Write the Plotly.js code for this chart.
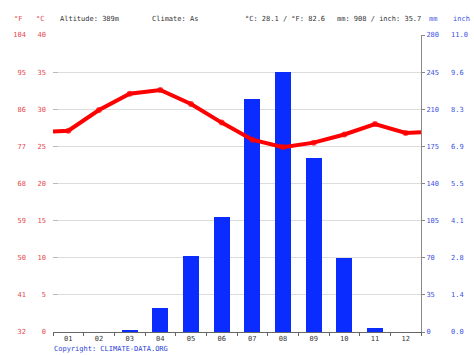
<!DOCTYPE html>
<html><head><meta charset="utf-8">
<script src="https://cdn.plot.ly/plotly-3.0.1.min.js"></script>
<style>html,body{margin:0;padding:0;background:#fff}#c{width:474px;height:355px}</style>
</head><body><div id="c"></div>
<script>
const months = [1,2,3,4,5,6,7,8,9,10,11,12];
const monthLabels = ['01','02','03','04','05','06','07','08','09','10','11','12'];
const precipMm = [0, 0, 2, 23, 72, 108, 220, 245, 164, 70, 4, 0];
const tempC = [27.1, 29.9, 32.1, 32.6, 30.7, 28.2, 25.9, 24.9, 25.5, 26.6, 28.0, 26.8];
const tempEdgeC = [27.0, 26.9]; // line value at left and right plot edges
const cTicks = [0,5,10,15,20,25,30,35,40];
const fTicks = [32,41,50,59,68,77,86,95,104];
const mmTicks = [0,35,70,105,140,175,210,245,280];
const inchTicks = ['0.0','1.4','2.8','4.1','5.5','6.9','8.3','9.6','11.0'];

const W = 474, H = 355, L = 53, R = 421, T = 35, B = 332;
const ph = B - T;
const px = v => v / W;
const py = v => 1 + (T - v) / ph;
const MONO = 'DejaVu Sans Mono';
const RED = '#e5484d', BLUE = '#3d52e3', GREY = '#333';

const lineX = [0.5].concat(months, [12.5]);
const lineY = [tempEdgeC[0]].concat(tempC, [tempEdgeC[1]]);
const msize = lineX.map((_, i) => (i === 0 || i === lineX.length - 1) ? 0 : 6);

const traces = [
  {type:'bar', x: months, y: precipMm, width: 0.53, marker:{color:'#0a2cff', line:{width:0}}, yaxis:'y', xaxis:'x', hoverinfo:'skip'},
  {type:'scatter', mode:'lines+markers', x: lineX, y: lineY, yaxis:'y2', line:{color:'#ff0000', width:4},
   marker:{color:'#ff0000', size: msize, line:{width:0}}, hoverinfo:'skip'},
  {type:'scatter', x:[], y:[], yaxis:'y3', hoverinfo:'skip'},
  {type:'scatter', x:[], y:[], yaxis:'y4', hoverinfo:'skip'}
];

const tf = c => ({family: MONO, size: 7, color: c});
const layout = {
  width: W, height: H, showlegend: false,
  margin: {l:0, r:0, t:T, b:H-B, pad:0},
  paper_bgcolor:'#fff', plot_bgcolor:'#fff',
  bargap: 0,
  xaxis: {domain:[px(L), px(R)], range:[0.5,12.5], tickvals: months, ticktext: monthLabels,
          tickfont: tf(GREY), ticks:'', showgrid:false, zeroline:false,
          showline:true, linecolor:'#666', linewidth:1,
          minor:{tick0:0.5, dtick:1, ticks:'outside', ticklen:3, tickcolor:'#666', showgrid:false}},
  yaxis: {side:'right', range:[0,280], tickvals: mmTicks, tickfont: tf(BLUE),
          showgrid:true, gridcolor:'#dcdcdc', gridwidth:1, zeroline:false,
          showline:true, linecolor:'#888', linewidth:1, ticks:'outside', ticklen:3, tickcolor:'#888'},
  yaxis2: {overlaying:'y', side:'left', range:[0,40], tickvals: cTicks, tickfont: tf(RED),
           showgrid:false, zeroline:false, showline:false, ticks:'inside', ticklen:5, tickcolor:'#bbb',
           ticklabelstandoff: 6},
  yaxis3: {overlaying:'y', side:'left', anchor:'free', position: px(26), range:[32,104], tickvals: fTicks,
           tickfont: tf(RED), showgrid:false, zeroline:false, showline:false, ticks:''},
  yaxis4: {overlaying:'y', side:'right', anchor:'free', position: px(450), range:[0, 280/25.4],
           tickvals: mmTicks.map(v => v/25.4), ticktext: inchTicks, tickfont: tf(BLUE),
           showgrid:false, zeroline:false, showline:false, ticks:''},
  annotations: [
    {text:'°F', x:px(18), y:py(19), color:RED},
    {text:'°C', x:px(40), y:py(19), color:RED},
    {text:'Altitude: 389m', x:px(58), y:py(19), color:GREY, left:true},
    {text:'Climate: As', x:px(150), y:py(19), color:GREY, left:true},
    {text:'°C: 28.1 / °F: 82.6', x:px(243), y:py(19), color:GREY, left:true},
    {text:'mm: 908 / inch: 35.7', x:px(335), y:py(19), color:GREY, left:true},
    {text:'mm', x:px(433), y:py(19), color:BLUE},
    {text:'inch', x:px(461), y:py(19), color:BLUE},
    {text:'Copyright: CLIMATE-DATA.ORG', x:px(52), y:py(349), color:'#2a45d8', left:true}
  ].map(a => ({text:a.text, x:a.x, y:a.y, xref:'paper', yref:'paper', showarrow:false,
               xanchor: a.left ? 'left' : 'center', yanchor:'middle', font: tf(a.color)}))
};
Plotly.newPlot('c', traces, layout, {displayModeBar:false, staticPlot:true});
</script></body></html>
